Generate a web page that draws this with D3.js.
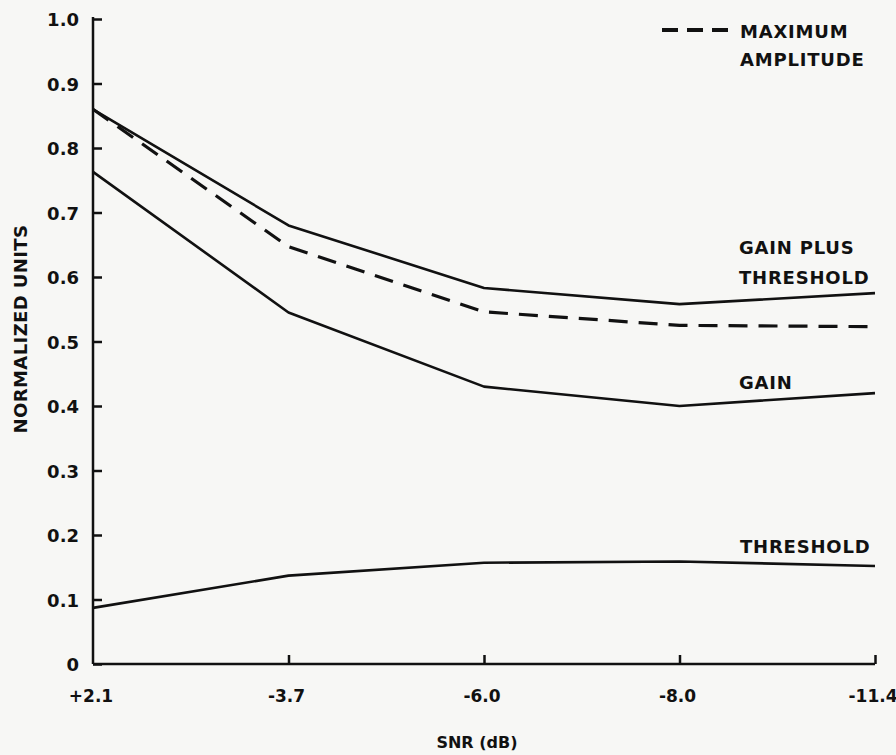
<!DOCTYPE html>
<html>
<head>
<meta charset="utf-8">
<script src="https://cdn.jsdelivr.net/npm/d3@7"></script>
<style>
  body { margin: 0; background: #f7f7f5; }
  svg text { font-family: "DejaVu Sans", sans-serif; font-weight: bold; fill: #111; }
</style>
</head>
<body>
<svg id="chart" width="896" height="755"></svg>
<script>
// SNR categories (equally spaced on the x axis)
var snrLabels = ["+2.1", "-3.7", "-6.0", "-8.0", "-11.4"];
var yTicks = [0, 0.1, 0.2, 0.3, 0.4, 0.5, 0.6, 0.7, 0.8, 0.9, 1.0];

var gainPlusThreshold = [0.86, 0.68, 0.583, 0.558, 0.575];
var maxAmplitude      = [0.86, 0.647, 0.546, 0.525, 0.523];
var gain              = [0.763, 0.545, 0.43, 0.40, 0.42];
var threshold         = [0.087, 0.137, 0.157, 0.159, 0.152];

var svg = d3.select("#chart");
var x0 = 93, x1 = 875, yBase = 664, yTop = 19;

var x = d3.scalePoint().domain(snrLabels).range([x0, x1]);
var y = d3.scaleLinear().domain([0, 1]).range([yBase, yTop]);

// y axis
var yAxis = svg.append("g").attr("transform", "translate(" + x0 + ",0)")
  .call(d3.axisRight(y).tickValues(yTicks).tickSize(9).tickFormat(""));
yAxis.select(".domain").attr("d", "M0," + (yTop - 2) + "V" + yBase);
yAxis.selectAll("path, line").attr("stroke", "#111").attr("stroke-width", 2.5);

svg.append("g").selectAll("text").data(yTicks).enter().append("text")
  .attr("x", 79).attr("y", function(d) { return y(d) + 7; })
  .attr("text-anchor", "end").style("font-size", "18px")
  .text(function(d) { return d === 0 ? "0" : d.toFixed(1); });

// x axis
var xAxis = svg.append("g").attr("transform", "translate(0," + yBase + ")")
  .call(d3.axisTop(x).tickSize(9).tickFormat(""));
xAxis.select(".domain").attr("d", "M" + x0 + ",0H" + x1);
xAxis.selectAll("path, line").attr("stroke", "#111").attr("stroke-width", 2.5);
xAxis.selectAll(".tick").filter(function(d) { return d === "+2.1"; }).remove();

svg.append("g").selectAll("text").data(snrLabels).enter().append("text")
  .attr("x", function(d) { return x(d) - 2; }).attr("y", 702)
  .attr("text-anchor", "middle").style("font-size", "17px")
  .text(function(d) { return d; });

svg.append("text").attr("x", 477).attr("y", 748)
  .attr("text-anchor", "middle").style("font-size", "16px").text("SNR (dB)");

svg.append("text").attr("transform", "translate(27,329)rotate(-90)")
  .attr("text-anchor", "middle").style("font-size", "18px")
  .style("letter-spacing", "0.4px").text("NORMALIZED UNITS");

// curves
var line = d3.line()
  .x(function(d, i) { return x(snrLabels[i]); })
  .y(function(d) { return y(d); });

[gainPlusThreshold, gain, threshold].forEach(function(s) {
  svg.append("path").attr("d", line(s))
    .attr("fill", "none").attr("stroke", "#111").attr("stroke-width", 2.6)
    .attr("stroke-linejoin", "round");
});
svg.append("path").attr("d", line(maxAmplitude))
  .attr("fill", "none").attr("stroke", "#111").attr("stroke-width", 3.2)
  .attr("stroke-dasharray", "19,11");

// legend + labels
svg.append("line").attr("x1", 662).attr("x2", 728).attr("y1", 30).attr("y2", 30)
  .attr("stroke", "#111").attr("stroke-width", 4).attr("stroke-dasharray", "16,9");
var lab = [["MAXIMUM", 740, 38], ["AMPLITUDE", 740, 66],
           ["GAIN PLUS", 739, 254], ["THRESHOLD", 739, 284],
           ["GAIN", 739, 389], ["THRESHOLD", 740, 553]];
svg.append("g").selectAll("text").data(lab).enter().append("text")
  .attr("x", function(d) { return d[1]; }).attr("y", function(d) { return d[2]; })
  .style("font-size", "18px").style("letter-spacing", "0.8px")
  .text(function(d) { return d[0]; });
</script>
</body>
</html>
